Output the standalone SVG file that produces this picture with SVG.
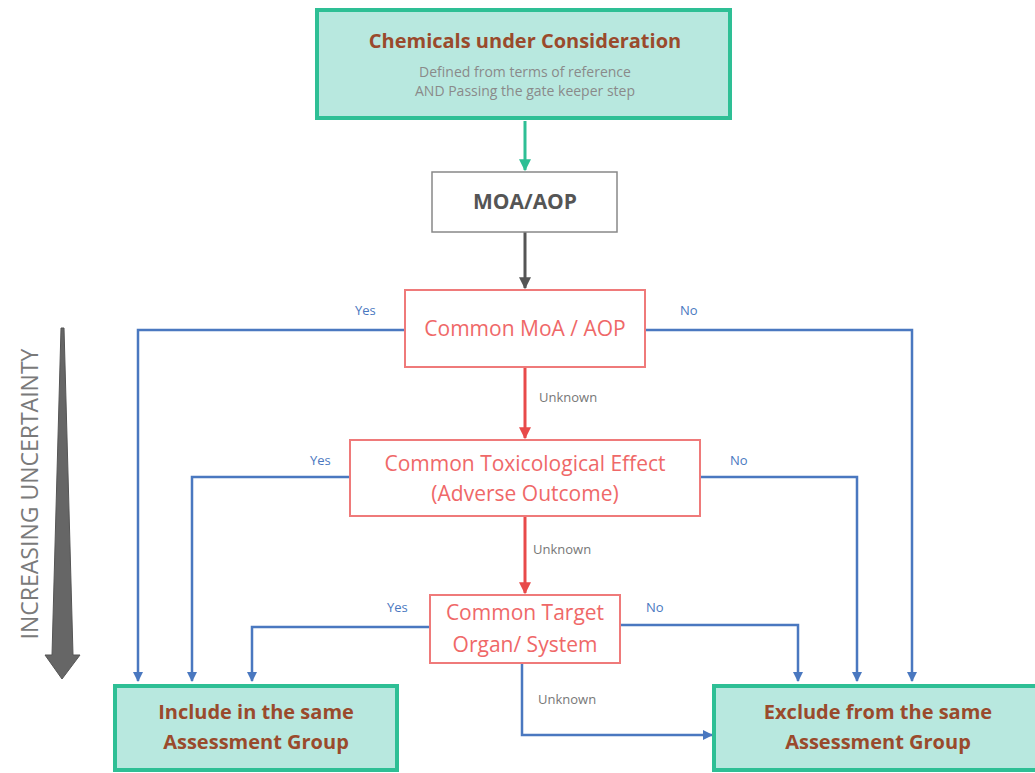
<svg xmlns="http://www.w3.org/2000/svg" width="1035" height="773" viewBox="0 0 1035 773">
<defs>
<style>
text{font-family:"Open Sans","Liberation Sans",sans-serif;}
.green{fill:#b8e8df;stroke:#2ebf95;stroke-width:4;}
.red{fill:#fff;stroke:#ef7a7a;stroke-width:2;}
.gray{fill:#fff;stroke:#888;stroke-width:1.5;}
.ttl{fill:#9a4a2c;font-weight:bold;text-anchor:middle;}
.rt{fill:#ef6868;text-anchor:middle;font-size:21px;}
.lbl{fill:#4a78c0;font-size:13px;}
.unk{fill:#777;font-size:13px;}
.blue{fill:none;stroke:#4a78c0;stroke-width:2.5;}
</style>
<marker id="ab" viewBox="0 0 10 10" refX="9" refY="5" markerWidth="4" markerHeight="4" orient="auto"><path d="M0,0L10,5L0,10z" fill="#4a78c0"/></marker>
<marker id="ar" viewBox="0 0 10 10" refX="9" refY="5" markerWidth="4" markerHeight="4" orient="auto"><path d="M0,0L10,5L0,10z" fill="#e84a4a"/></marker>
<marker id="ag" viewBox="0 0 10 10" refX="9" refY="5" markerWidth="4" markerHeight="4" orient="auto"><path d="M0,0L10,5L0,10z" fill="#2ebf95"/></marker>
<marker id="ak" viewBox="0 0 10 10" refX="9" refY="5" markerWidth="4" markerHeight="4" orient="auto"><path d="M0,0L10,5L0,10z" fill="#555"/></marker>
</defs>
<rect width="1035" height="773" fill="#fff"/>
<g id="uncertainty">
<path d="M61,328 L64,328 L73,655 L80,655 L62,679 L45,655 L52,655 Z" fill="#666" stroke="#555" stroke-width="1"/>
<text transform="translate(38,494) rotate(-90)" text-anchor="middle" font-size="23" fill="#7a7a7a">INCREASING UNCERTAINTY</text>
</g>
<g id="connectors">
<line x1="525" y1="121" x2="525" y2="170" stroke="#2ebf95" stroke-width="3" marker-end="url(#ag)"/>
<line x1="525" y1="232" x2="525" y2="288" stroke="#555" stroke-width="3" marker-end="url(#ak)"/>
<line x1="525" y1="367" x2="525" y2="438" stroke="#e84a4a" stroke-width="3" marker-end="url(#ar)"/>
<line x1="525" y1="516" x2="525" y2="593" stroke="#e84a4a" stroke-width="3" marker-end="url(#ar)"/>
<path class="blue" d="M405,330 H138 V681" marker-end="url(#ab)"/>
<path class="blue" d="M645,330 H912 V681" marker-end="url(#ab)"/>
<path class="blue" d="M350,477 H192 V681" marker-end="url(#ab)"/>
<path class="blue" d="M700,477 H857 V681" marker-end="url(#ab)"/>
<path class="blue" d="M430,627 H252 V681" marker-end="url(#ab)"/>
<path class="blue" d="M620,625 H798 V681" marker-end="url(#ab)"/>
<path class="blue" d="M522,663 V735 H712" marker-end="url(#ab)"/>
<text class="lbl" x="355" y="315">Yes</text>
<text class="lbl" x="680" y="315">No</text>
<text class="unk" x="539" y="402">Unknown</text>
<text class="lbl" x="310" y="465">Yes</text>
<text class="lbl" x="730" y="465">No</text>
<text class="unk" x="533" y="554">Unknown</text>
<text class="lbl" x="387" y="612">Yes</text>
<text class="lbl" x="646" y="612">No</text>
<text class="unk" x="538" y="704">Unknown</text>
</g>
<g id="chemicals">
<rect class="green" x="317" y="10" width="413" height="108"/>
<text class="ttl" x="525" y="48" font-size="20">Chemicals under Consideration</text>
<text x="525" y="77" text-anchor="middle" font-size="14" fill="#8a8a8a">Defined from terms of reference</text>
<text x="525" y="96" text-anchor="middle" font-size="14" fill="#8a8a8a">AND Passing the gate keeper step</text>
</g>
<g id="moa">
<rect class="gray" x="432" y="172" width="185" height="60"/>
<text x="525" y="209" text-anchor="middle" font-size="21" font-weight="bold" fill="#555">MOA/AOP</text>
</g>
<g id="commonmoa">
<rect class="red" x="405" y="290" width="240" height="77"/>
<text class="rt" x="525" y="336">Common MoA / AOP</text>
</g>
<g id="toxeffect">
<rect class="red" x="350" y="440" width="350" height="76"/>
<text class="rt" x="525" y="471">Common Toxicological Effect</text>
<text class="rt" x="525" y="501">(Adverse Outcome)</text>
</g>
<g id="target">
<rect class="red" x="430" y="595" width="190" height="68"/>
<text class="rt" x="525" y="620">Common Target</text>
<text class="rt" x="525" y="652">Organ/ System</text>
</g>
<g id="include">
<rect class="green" x="115" y="686" width="282" height="84"/>
<text class="ttl" x="256" y="719" font-size="20">Include in the same</text>
<text class="ttl" x="256" y="749" font-size="20">Assessment Group</text>
</g>
<g id="exclude">
<rect class="green" x="714" y="686" width="330" height="84"/>
<text class="ttl" x="878" y="719" font-size="20">Exclude from the same</text>
<text class="ttl" x="878" y="749" font-size="20">Assessment Group</text>
</g>
</svg>
